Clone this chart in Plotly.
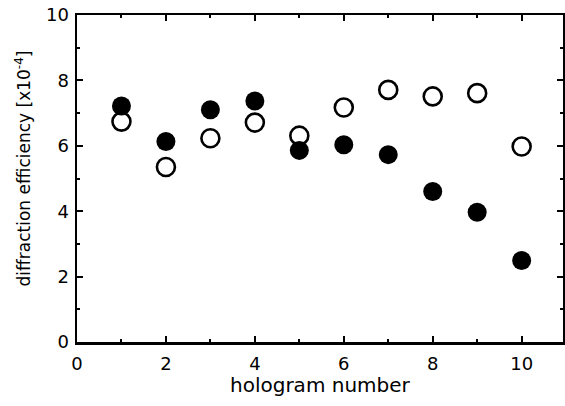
import plotly.graph_objects as go

hologram = [1, 2, 3, 4, 5, 6, 7, 8, 9, 10]
filled_eff = [7.22, 6.13, 7.10, 7.37, 5.86, 6.03, 5.73, 4.60, 3.97, 2.49]
open_eff = [6.74, 5.35, 6.23, 6.71, 6.31, 7.17, 7.71, 7.51, 7.61, 5.98]
x_ticks = [0, 2, 4, 6, 8, 10]
y_ticks = [0, 2, 4, 6, 8, 10]
x_title = "hologram number"
y_title = "diffraction efficiency [x10<sup>-4</sup>]"

fig = go.Figure()
fig.add_trace(go.Scatter(x=hologram, y=filled_eff, mode="markers",
                         marker=dict(symbol="circle", size=19, color="black",
                                     line=dict(width=0)), showlegend=False))
fig.add_trace(go.Scatter(x=hologram, y=open_eff, mode="markers",
                         marker=dict(symbol="circle-open", size=18, color="black",
                                     line=dict(width=2.6)), showlegend=False))

fam = "DejaVu Sans, Arial, sans-serif"
tickfont = dict(family=fam, size=18, color="black")
axis_common = dict(showline=True, linecolor="black", linewidth=2.5, mirror="ticks",
                   ticks="inside", ticklen=6, tickwidth=2, tickcolor="black",
                   showgrid=False, zeroline=False, tickfont=tickfont, automargin=False,
                   minor=dict(ticks="inside", ticklen=3, tickwidth=2, dtick=1, tickcolor="black"))

fig.update_xaxes(range=[0, 10.93], tickvals=x_ticks, ticklabelstandoff=4, **axis_common)
fig.update_yaxes(range=[0, 10], tickvals=y_ticks, ticklabelstandoff=2, **axis_common)

fig.add_annotation(text=x_title, xref="paper", yref="paper", x=0.5, y=-0.133,
                   xanchor="center", yanchor="middle", showarrow=False,
                   font=dict(family=fam, size=20, color="black"))
fig.add_annotation(text=y_title, xref="paper", yref="paper", x=-0.111, y=0.531,
                   xanchor="center", yanchor="middle", showarrow=False, textangle=-90,
                   font=dict(family=fam, size=17, color="black"))

fig.update_layout(width=565, height=406, margin=dict(l=77, r=2, t=15, b=63.5),
                  plot_bgcolor="white", paper_bgcolor="white", hovermode=False)
fig.write_html("out.html", config={"displayModeBar": False, "staticPlot": True},
               post_script="document.body.style.margin='0px';document.body.style.overflow='hidden';")
